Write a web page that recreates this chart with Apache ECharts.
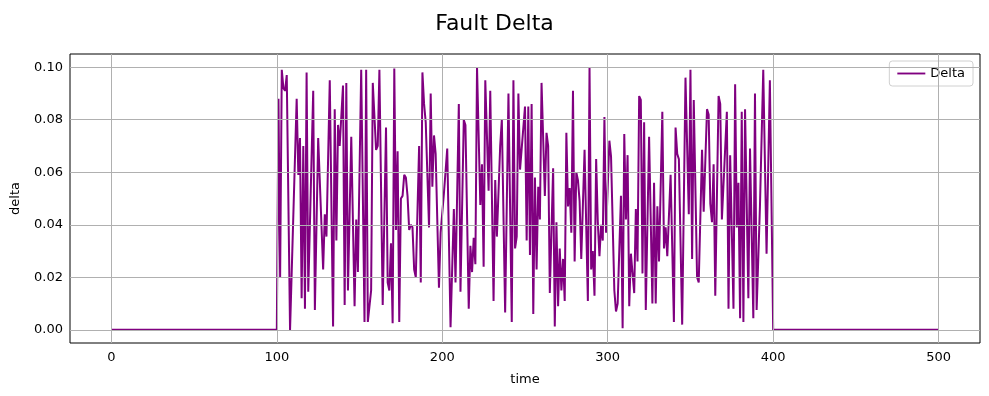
<!DOCTYPE html>
<html>
<head>
<meta charset="utf-8">
<script src="https://cdn.jsdelivr.net/npm/echarts@6/dist/echarts.min.js"></script>
<style>html,body{margin:0;padding:0;background:#fff}#c{width:989px;height:396px}</style>
</head>
<body>
<div id="c"></div>
<script>
var titleText = 'Fault Delta';
var seriesName = 'Delta';
var xTicks = [0, 100, 200, 300, 400, 500];
var yTicks = [0, 0.02, 0.04, 0.06, 0.08, 0.10];
var times = [0,100,101,102,103,104,105,106,108,112,113,114,115,116,117,118,119,122,123,125,128,129,130,132,134,135,136,137,138,140,141,142,143,145,147,148,149,151,153,154,155,157,158,160,161,162,164,166,167,168,169,170,171,172,173,174,175,176,177,178,179,180,181,182,183,184,185,186,187,188,189,190,191,192,193,194,195,196,198,199,201,202,203,205,206,207,208,210,211,213,214,216,217,218,219,220,221,223,224,225,226,228,229,231,232,233,234,235,236,238,240,242,243,244,245,246,247,248,250,251,252,253,254,255,256,257,258,259,260,262,263,264,265,267,268,269,270,271,272,273,274,275,276,277,278,279,280,281,282,283,284,286,288,289,290,291,292,293,294,295,296,297,298,299,301,302,304,305,306,308,309,310,311,312,313,314,315,316,317,318,319,320,321,322,323,325,327,328,329,330,331,333,334,335,336,338,340,341,342,343,345,347,349,350,351,352,354,355,357,358,360,361,362,363,364,365,367,368,369,372,373,374,376,377,378,379,380,381,382,383,385,386,388,389,390,392,394,396,398,400,500];
var deltas = [0,0,0.088,0.020,0.099,0.092,0.091,0.097,0.000,0.088,0.059,0.073,0.012,0.070,0.008,0.098,0.0145,0.091,0.0076,0.073,0.023,0.044,0.0355,0.095,0.0013,0.084,0.034,0.078,0.070,0.093,0.0095,0.094,0.015,0.0735,0.009,0.042,0.022,0.099,0.003,0.099,0.003,0.015,0.094,0.0685,0.070,0.099,0.0095,0.077,0.018,0.015,0.033,0.0025,0.0995,0.038,0.068,0.003,0.050,0.051,0.059,0.058,0.051,0.038,0.040,0.039,0.023,0.020,0.020,0.070,0.018,0.098,0.086,0.079,0.079,0.039,0.090,0.0545,0.074,0.067,0.016,0.037,0.052,0.0526,0.069,0.001,0.0006,0.046,0.018,0.086,0.0145,0.080,0.078,0.008,0.032,0.022,0.035,0.025,0.100,0.0475,0.063,0.024,0.095,0.053,0.091,0.011,0.057,0.0355,0.0355,0.070,0.080,0.0066,0.090,0.003,0.095,0.031,0.0355,0.090,0.061,0.069,0.085,0.034,0.085,0.0285,0.086,0.006,0.058,0.023,0.0545,0.042,0.094,0.051,0.075,0.070,0.014,0.0615,0.0013,0.041,0.009,0.031,0.015,0.027,0.011,0.075,0.047,0.054,0.037,0.091,0.026,0.060,0.057,0.049,0.027,0.0685,0.011,0.100,0.023,0.030,0.013,0.065,0.041,0.028,0.040,0.034,0.081,0.037,0.072,0.066,0.015,0.007,0.010,0.051,0.0006,0.0745,0.042,0.0665,0.009,0.029,0.0285,0.014,0.046,0.026,0.089,0.0875,0.0215,0.079,0.0076,0.0735,0.010,0.056,0.010,0.047,0.026,0.083,0.031,0.039,0.028,0.059,0.003,0.077,0.067,0.065,0.002,0.096,0.044,0.099,0.027,0.0875,0.020,0.018,0.0685,0.045,0.084,0.082,0.048,0.041,0.063,0.013,0.089,0.086,0.042,0.083,0.008,0.0665,0.008,0.0935,0.039,0.056,0.0044,0.083,0.003,0.084,0.012,0.069,0.0044,0.090,0.0076,0.047,0.099,0.029,0.095,0,0];

var chart = echarts.init(document.getElementById('c'), null, {renderer: 'canvas'});
var pts = times.map(function (t, i) { return [t, deltas[i]]; });
var FONT = 'DejaVu Sans';
var gridMarks = xTicks.map(function (v) { return {xAxis: v}; }).concat(yTicks.map(function (v) { return {yAxis: v}; }));

chart.setOption({
  animation: false,
  backgroundColor: '#ffffff',
  title: {
    text: titleText, left: 'center', top: 8,
    textStyle: {fontFamily: FONT, fontSize: 22, fontWeight: 'normal', color: '#000'}
  },
  legend: {
    data: [{name: seriesName, icon: 'path://M0,0 L30,0 L30,2 L0,2 Z'}],
    right: 16, top: 61, orient: 'vertical',
    itemWidth: 28, itemHeight: 2, itemGap: 6,
    padding: [6, 8, 6, 8],
    borderColor: '#d0d0d0', borderWidth: 1, borderRadius: 3,
    backgroundColor: 'rgba(255,255,255,0.8)',
    textStyle: {fontFamily: FONT, fontSize: 13, color: '#000'}
  },
  grid: {left: 70, right: 9, top: 54, bottom: 53, show: true, borderColor: '#000', borderWidth: 1, backgroundColor: 'transparent'},
  xAxis: {
    type: 'value', min: -25, max: 525,
    name: 'time', nameLocation: 'middle', nameGap: 30,
    nameTextStyle: {fontFamily: FONT, fontSize: 13, color: '#000'},
    axisLine: {show: false},
    axisTick: {show: true, customValues: xTicks, length: 4, inside: false, lineStyle: {color: '#000'}},
    axisLabel: {customValues: xTicks, fontFamily: FONT, fontSize: 13, color: '#000', margin: 8},
    splitLine: {show: false}
  },
  yAxis: {
    type: 'value', min: -0.005, max: 0.105,
    name: 'delta', nameLocation: 'middle', nameGap: 48, nameRotate: 90,
    nameTextStyle: {fontFamily: FONT, fontSize: 13, color: '#000'},
    axisLine: {show: false},
    axisTick: {show: true, customValues: yTicks, length: 4, inside: false, lineStyle: {color: '#000'}},
    axisLabel: {customValues: yTicks, fontFamily: FONT, fontSize: 13, color: '#000', margin: 7,
      formatter: function (v) { return v.toFixed(2); }},
    splitLine: {show: false}
  },
  series: [
    {
      type: 'line', name: '_grid', data: [], z: 1, silent: true,
      markLine: {
        silent: true, symbol: ['none', 'none'], label: {show: false},
        lineStyle: {color: '#b0b0b0', width: 1, type: 'solid'},
        data: gridMarks, animation: false
      }
    },
    {
      type: 'line', name: seriesName, data: pts, z: 3,
      showSymbol: false, symbol: 'none',
      lineStyle: {color: '#800080', width: 2},
      itemStyle: {color: '#800080'}
    }
  ]
});
</script>
</body>
</html>
